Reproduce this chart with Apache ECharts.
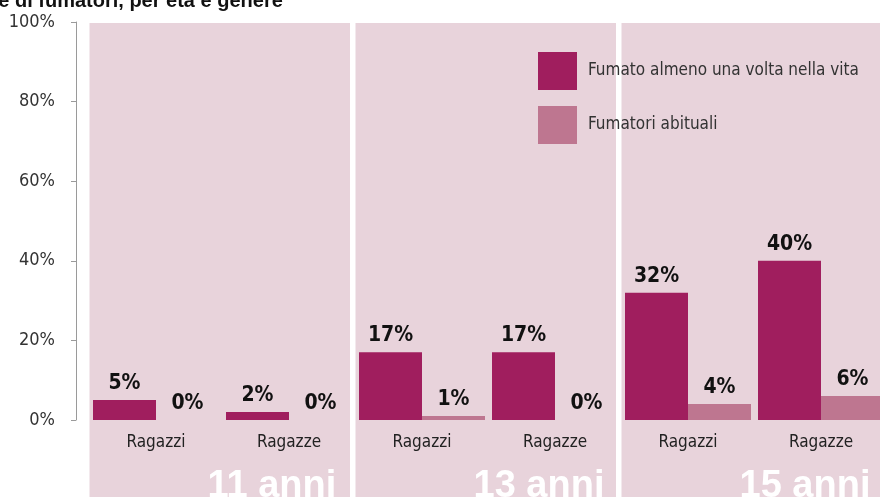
<!DOCTYPE html>
<html>
<head>
<meta charset="utf-8">
<script src="https://cdn.jsdelivr.net/npm/echarts@6/dist/echarts.min.js"></script>
<style>
  html, body { margin: 0; padding: 0; background: #ffffff; overflow: hidden; }
  /* the plot runs slightly past the right edge of the window */
  #chart { width: 888px; height: 497px; }
</style>
</head>
<body>
<div id="chart"></div>
<script>
// Fumatori tra gli studenti, per età e genere
const categories = ['Ragazzi', 'Ragazze', 'Ragazzi', 'Ragazze', 'Ragazzi', 'Ragazze'];
const everSmoked = [5, 2, 17, 17, 32, 40];   // Fumato almeno una volta nella vita
const regularSmokers = [0, 0, 1, 0, 4, 6];   // Fumatori abituali
const ageGroups = ['11 anni', '13 anni', '15 anni'];
const yTicks = [0, 20, 40, 60, 80, 100];

const NARROW = "'DejaVu Sans Condensed', 'Liberation Sans Narrow', sans-serif";
const PANEL = '#e8d3db';
const DARK = '#a01e5e';
const LIGHT = '#be7690';

const chart = echarts.init(document.getElementById('chart'), null, { renderer: 'canvas' });

// one background panel per age group, spanning its two categories
const panelData = ageGroups.map((name, i) => [i * 2, i * 2 + 2, name]);

const barLabel = {
  show: true,
  position: 'top',
  distance: 6,
  formatter: '{c}%',
  fontFamily: NARROW,
  fontWeight: 'bold',
  fontSize: 21,
  color: '#111'
};

const option = {
  animation: false,
  backgroundColor: '#ffffff',
  title: {
    text: 'Percentuale di fumatori, per età e genere',
    left: -104,
    top: -9,
    padding: 0,
    textStyle: { fontFamily: "'Liberation Sans', Arial, sans-serif", fontWeight: 'bold', fontSize: 20, color: '#111' }
  },
  legend: {
    orient: 'vertical',
    left: 538,
    top: 52,
    itemWidth: 39,
    itemHeight: 38,
    itemGap: 16,
    padding: 0,
    icon: 'rect',
    z: 10,
    textStyle: { fontFamily: NARROW, fontSize: 17, color: '#333', padding: [0, 0, 0, 6] },
    data: ['Fumato almeno una volta nella vita', 'Fumatori abituali']
  },
  grid: { left: 89.5, right: 0.5, top: 22, bottom: 77, containLabel: false },
  xAxis: [
    {
      type: 'category',
      data: categories,
      z: 5,
      axisLine: { show: false },
      axisTick: { show: false },
      axisLabel: { margin: 14, fontFamily: NARROW, fontSize: 17, color: '#222' }
    },
    { type: 'value', min: 0, max: categories.length, show: false }
  ],
  yAxis: {
    type: 'value',
    min: yTicks[0],
    max: yTicks[yTicks.length - 1],
    interval: 20,
    offset: 13.5,
    z: 5,
    axisLine: { show: true, onZero: false, lineStyle: { color: '#9a9a9a', width: 1 } },
    axisTick: { show: true, length: 5, lineStyle: { color: '#9a9a9a' } },
    splitLine: { show: false },
    axisLabel: { margin: 21, formatter: '{value}%', fontFamily: NARROW, fontSize: 18, color: '#333' }
  },
  series: [
    {
      type: 'custom',
      xAxisIndex: 1,
      z: 1,
      silent: true,
      clip: false,
      data: panelData,
      renderItem: function (params, api) {
        const x0 = api.coord([api.value(0), 100])[0];
        const x1 = api.coord([api.value(1), 100])[0] - 5.5;
        const yTop = api.coord([0, 100])[1] + 1;
        const yBase = api.coord([0, 0])[1];
        return {
          type: 'group',
          children: [
            {
              type: 'rect',
              shape: { x: x0, y: yTop, width: x1 - x0, height: api.getHeight() - yTop },
              style: { fill: PANEL }
            },
            {
              type: 'text',
              x: x0 + 118,
              y: yBase + 48,
              style: {
                text: panelData[params.dataIndex][2],
                fontFamily: "'Liberation Sans', Arial, sans-serif",
                fontWeight: 'bold',
                fontSize: 38,
                fill: '#ffffff',
                textAlign: 'left',
                textVerticalAlign: 'top'
              }
            }
          ]
        };
      }
    },
    {
      name: 'Fumato almeno una volta nella vita',
      type: 'bar',
      z: 3,
      barWidth: 63,
      barGap: '0%',
      itemStyle: { color: DARK },
      label: barLabel,
      data: everSmoked
    },
    {
      name: 'Fumatori abituali',
      type: 'bar',
      z: 3,
      barWidth: 63,
      barGap: '0%',
      itemStyle: { color: LIGHT },
      label: barLabel,
      data: regularSmokers
    }
  ]
};

chart.setOption(option);
</script>
</body>
</html>
